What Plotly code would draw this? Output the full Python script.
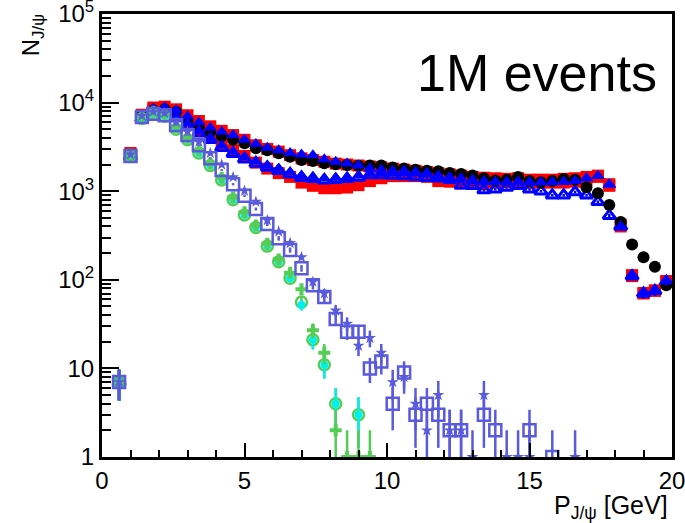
import plotly.graph_objects as go
import math

# ---------------- data ----------------
X = [0.6, 1.0, 1.4, 1.8, 2.2, 2.6, 3.0, 3.4, 3.8, 4.2, 4.6, 5.0, 5.4, 5.8, 6.2, 6.6,
     7.0, 7.4, 7.8, 8.2, 8.6, 9.0, 9.4, 9.8, 10.2, 10.6, 11.0, 11.4, 11.8, 12.2, 12.6,
     13.0, 13.4, 13.8, 14.2, 14.6, 15.0, 15.4, 15.8, 16.2, 16.6, 17.0, 17.4, 17.8,
     18.2, 18.6, 19.0, 19.4, 19.8]

black_circles = [7, 2600, 7000, 8200, 8400, 7900, 6300, 5400, 4700, 4200, 3800, 3480, 3050,
                 2900, 2680, 2450, 2250, 2190, 2070, 2010, 1980, 1940, 1950, 1950, 1850, 1800,
                 1750, 1700, 1680, 1600, 1560, 1500, 1400, 1320, 1350, 1450, 1300, 1260, 1300,
                 1370, 1350, 1110, 950, 700, 450, 250, 180, 140, 87]

red_upper = [7, 2700, 7300, 8800, 9000, 8400, 7200, 6200, 5400, 4800, 4300, 3800, 3300,
             3000, 2800, 2550, 2350, 2250, 2150, 2050, 2000, 1950, 1900, 1850, 1800, 1750,
             1700, 1650, 1600, 1550, 1500, 1450, 1420, 1400, 1380, 1400, 1350, 1350, 1350,
             1380, 1400, 1450, 1500, 1200, 420, 113, 71, 76, 97]

red_lower = [7, 2600, 7000, 8200, 8200, 7400, 6200, 5000, 4200, 3500, 2900, 2500, 2100,
             1800, 1600, 1450, 1250, 1150, 1080, 1080, 1100, 1170, 1300, 1400, 1480, 1480,
             1480, 1450, 1300, 1280, 1260, 1260, 1200, 1250, 1260, 1300, 1250, 1250, 1250,
             1250, 1280, 1350, 1450, 1150, 400, 110, 70, 75, 95]

blue_upper = [7, 2650, 7200, 8600, 8800, 8200, 7000, 6000, 5200, 4700, 4300, 3800, 3400,
              3100, 2900, 2700, 2600, 2550, 2300, 2150, 2050, 1950, 1800, 1750, 1700, 1700,
              1650, 1600, 1500, 1450, 1400, 1350, 1300, 1280, 1270, 1280, 1260, 1260, 1270,
              1280, 1300, 1400, 1480, 1200, 400, 113, 71, 76, 97]

blue_lower = [7, 2500, 6800, 8000, 8000, 7000, 5800, 4800, 4000, 3300, 2800, 2450, 2190,
              1950, 1800, 1650, 1500, 1450, 1400, 1420, 1450, 1500, 1600, 1600, 1600, 1600,
              1600, 1550, 1400, 1400, 1380, 1300, 1260, 1260, 1260, 1280, 1250, 1260, 1260,
              1270, 1300, 1400, 1480, 1180, 400, 113, 70, 75, 96]

blue_open = [7, 2450, 6600, 7800, 7700, 6700, 5500, 4500, 3800, 3100, 2650, 2300, 2050,
             1850, 1700, 1550, 1420, 1380, 1330, 1350, 1380, 1430, 1520, 1520, 1500, 1480,
             1450, 1420, 1400, 1350, 1160, 1150, 1030, 1050, 1100, 1150, 1050, 1000, 900,
             900, 980, 900, 760, 530, 400, 110, 70, 75, 95]

purple_squares = [7, 2500, 6900, 7500, 7200, 5600, 4300, 3300, 2360, 1735, 1200, 890, 630,
                  425, 294, 217, 135, 87, 64, 36, 26, 26, 10, 12, 4, 9, 3, 4, 3, 2, 2,
                  None, 3, 2, None, None, 2, None, 1, None, None, None, None, None,
                  None, None, None, None, None]

purple_stars = [7, 2600, 7100, 7900, 7600, 6000, 4700, 3600, 2700, 2000, 1440, 1010, 760,
                470, 350, 260, 180, 95, 70, 45, 32, 18, 22, 15, 7, 8, 4, 2, 5, 2, 2,
                1, 5, None, 1, 1, 1, None, None, None, 1, None, None, None,
                None, None, None, None, None]

green_circles = [7, 2500, 6600, 7500, 7000, 5000, 3800, 2700, 1950, 1340, 800, 540, 390,
                 240, 160, 104, 56, 21, 11, 4, None, 3, None, None, None, None, None, None,
                 None, None, None, None, None, None, None, None, None, None, None, None,
                 None, None, None, None, None, None, None, None, None]

cyan_circles = [7, 2500, 6600, 7500, 7000, 5000, 3800, 2700, 1950, 1340, 800, 540, 390,
                240, 160, 104, 52, 21, 11, 4, None, 3, None, None, None, None, None, None,
                None, None, None, None, None, None, None, None, None, None, None, None,
                None, None, None, None, None, None, None, None, None]

green_crosses = [7, 2600, 6900, 7900, 7400, 5300, 4000, 2900, 2050, 1420, 850, 580, 410,
                 255, 170, 120, 78, 27, 15, 2, 1, 1, 1, None, None, None, None, None,
                 None, None, None, None, None, None, None, None, None, None, None, None,
                 None, None, None, None, None, None, None, None, None]

Y_TICKS = [1, 10, 100, 1000, 10000, 100000]
Y_TICKTEXT = ["1", "10", "10<sup>2</sup>", "10<sup>3</sup>", "10<sup>4</sup>", "10<sup>5</sup>"]
X_TICKS = [0, 5, 10, 15, 20]

# ---------------- figure ----------------
fig = go.Figure()


def add(vals, color, symbol, size, line_w=0, line_color=None, err_w=2.5):
    xs, ys, es = [], [], []
    for x, v in zip(X, vals):
        if v is None:
            continue
        xs.append(x)
        ys.append(v)
        es.append(math.sqrt(v))
    fig.add_trace(go.Scatter(
        x=xs, y=ys, mode="markers",
        marker=dict(color=color, symbol=symbol, size=size,
                    line=dict(width=line_w, color=line_color or color)),
        error_y=dict(type="data", array=es, visible=True, color=color,
                     thickness=err_w, width=0),
        showlegend=False, cliponaxis=True,
    ))


RED = "rgb(255,0,0)"
BLUE = "rgb(0,0,255)"
PURPLE = "rgb(90,90,222)"
GREEN = "rgb(85,205,85)"
CYAN = "rgb(0,240,240)"

add(red_lower, RED, "square", 12)
add(red_upper, RED, "square", 12)
add(blue_open, BLUE, "triangle-up-open", 11, line_w=3)
add(black_circles, "black", "circle", 12)
add(blue_lower, BLUE, "triangle-up", 12)
add(blue_upper, BLUE, "triangle-up", 12)

add(green_circles, GREEN, "circle-open", 11, line_w=2.5)
add(cyan_circles, CYAN, "circle", 8)
add(green_crosses, GREEN, "cross", 10)
add(purple_squares, PURPLE, "square-open", 12, line_w=2.5)
add(purple_stars, PURPLE, "star", 9)

minor_y = [m * 10 ** d for d in range(0, 5) for m in range(2, 10)]

fig.update_layout(
    width=685, height=523,
    margin=dict(l=102, r=13, t=14, b=66),
    paper_bgcolor="white", plot_bgcolor="white",
    font=dict(family="Liberation Sans, Arial, sans-serif", color="black", size=24),
    showlegend=False,
    xaxis=dict(
        range=[0, 20], tickmode="array", tickvals=X_TICKS, automargin=False,
        ticklabeloverflow="allow",
        ticks="inside", ticklen=14, tickwidth=2, tickcolor="black",
        showline=True, linewidth=3, linecolor="black", mirror=True,
        showgrid=False, zeroline=False,
        minor=dict(ticks="inside", ticklen=7, tickwidth=2, tickcolor="black",
                   dtick=1, showgrid=False),
        tickfont=dict(size=24),
    ),
    yaxis=dict(
        type="log", range=[0, 5], tickmode="array", tickvals=Y_TICKS, ticktext=Y_TICKTEXT,
        automargin=False, ticklabeloverflow="allow",
        ticks="inside", ticklen=17, tickwidth=2, tickcolor="black",
        showline=True, linewidth=3, linecolor="black", mirror=True,
        showgrid=False, zeroline=False,
        minor=dict(ticks="inside", ticklen=9, tickwidth=2, tickcolor="black",
                   tickvals=minor_y, showgrid=False),
        tickfont=dict(size=24),
    ),
    annotations=[
        dict(text="1M events", xref="paper", yref="paper", x=0.763, y=0.867,
             xanchor="center", yanchor="middle", showarrow=False,
             font=dict(size=52)),
        dict(text="N<sub>J/ψ</sub>", xref="paper", yref="paper", x=-0.122, y=1.005,
             xanchor="center", yanchor="top", showarrow=False, textangle=-90,
             font=dict(size=24)),
        dict(text="P<sub>J/ψ</sub> [GeV]", xref="paper", yref="paper", x=0.997, y=-0.113,
             xanchor="right", yanchor="middle", showarrow=False,
             font=dict(size=25)),
    ],
)

fig.write_html("out.html")
